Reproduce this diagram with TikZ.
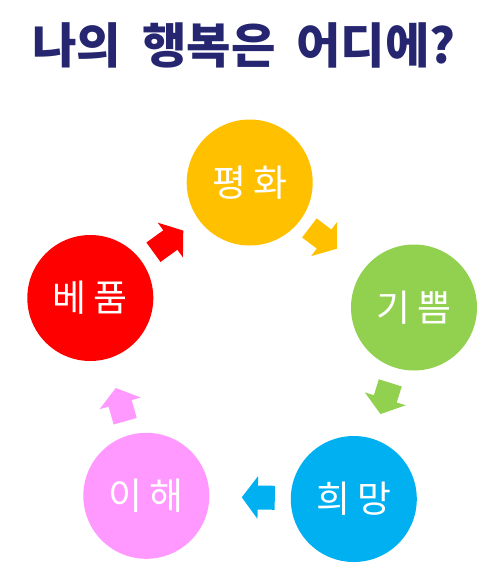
\documentclass[tikz,border=0pt]{standalone}
\usepackage{fontspec}
\setmainfont{Noto Sans CJK KR}
\usetikzlibrary{arrows.meta}
\definecolor{titlenavy}{RGB}{38,38,112}
\definecolor{hwaorange}{RGB}{255,192,0}
\definecolor{ppeumgreen}{RGB}{146,208,80}
\definecolor{mangblue}{RGB}{0,176,240}
\definecolor{haepink}{RGB}{255,153,255}
\definecolor{pumred}{RGB}{255,0,0}
\newcommand{\gap}{\hspace{1.4mm}} % extra room between the two letters of a word
\tikzset{
x=0.2mm, y=-0.2mm, % one unit is one pixel, y runs downwards
word/.style={circle, minimum size=25.2mm, inner sep=0pt, outer sep=0pt, text=white, font=\fontsize{21}{21}\selectfont}, % the coloured circles
flow/.style={line width=4.8mm, -{Triangle[length=3.2mm, width=8.4mm]}}, % the thick arrows between the circles
}

\begin{document}
\begin{tikzpicture}
      \useasboundingbox (0,0) rectangle (492,566);
      \node[font=\fontsize{27.5}{27.5}\selectfont\bfseries, text=titlenavy] (title) at (244,45) {나의\hspace{4.2mm}행복은\hspace{4.2mm}어디에?};

      \node[word, fill=hwaorange] (hwa) at (249.7,182.5) {평\gap 화};
      \node[word, fill=ppeumgreen] (ppeum) at (414,307.5) {기\gap 쁨};
      \node[word, fill=mangblue] (mang) at (353.8,499) {희\gap 망};
      \node[word, fill=haepink] (hae) at (146.3,495.8) {이\gap 해};
      \node[word, fill=pumred] (pum) at (90.3,298) {베\gap 품};

      \draw[flow, hwaorange, shorten <=2.4mm, shorten >=6.8mm] (hwa) -- (ppeum);
      \draw[flow, ppeumgreen, shorten <=3.2mm, shorten >=5.2mm] (ppeum) -- (mang);
      \draw[flow, mangblue, shorten <=3.2mm, shorten >=6.5mm] (mang) -- (hae);
      \draw[flow, haepink, shorten <=2.9mm, shorten >=6.1mm] (hae) -- (pum);
      \draw[flow, pumred, shorten <=3mm, shorten >=3.8mm] (pum) -- (hwa);
    \end{tikzpicture}
\end{document}
